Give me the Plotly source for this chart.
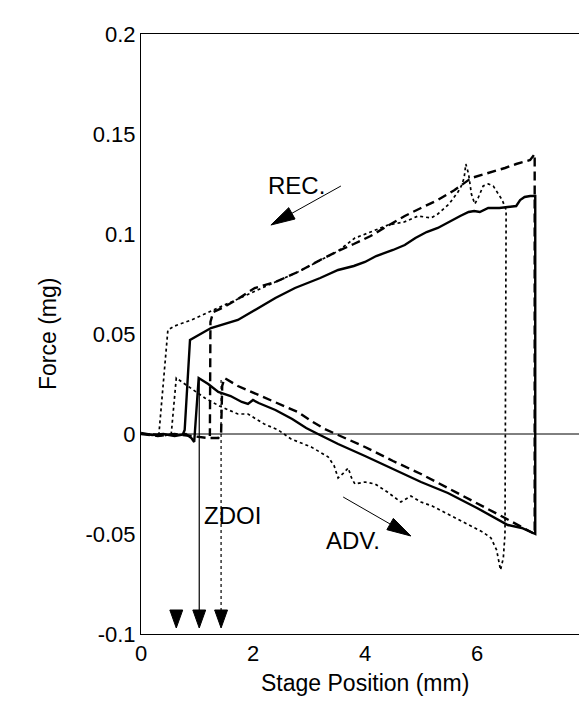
import math
import plotly.graph_objects as go

# ---------------- data ----------------
# Solid curve: baseline -> advancing snap-in -> advancing branch -> jump at 7 mm -> receding branch -> snap-off
solid_x = [0.0, 0.2, 0.4, 0.6, 0.8, 0.9, 0.95, 1.0, 1.03,
           1.2, 1.38, 1.6, 1.8, 1.91, 2.0, 2.1, 2.4, 2.7, 2.95, 3.16, 3.52,
           4.0, 4.5, 5.0, 5.48, 6.0, 6.55, 6.8, 7.04,
           7.04, 6.95, 6.85, 6.77, 6.7, 6.55, 6.4, 6.2, 6.05, 5.95, 5.85, 5.7,
           5.5, 5.3, 5.1, 4.9, 4.71, 4.5, 4.2, 4.0, 3.8, 3.52, 3.2, 2.75, 2.4,
           2.09, 1.73, 1.25, 1.05, 0.93, 0.875, 0.78, 0.75]
solid_y = [0.0005, -0.0005, 0.0, -0.001, 0.0, -0.002, -0.004, 0.02, 0.028,
           0.025, 0.021, 0.019, 0.016, 0.015, 0.017, 0.0155, 0.012, 0.0075, 0.003, 0.0, -0.005,
           -0.011, -0.0175, -0.024, -0.0295, -0.037, -0.0455, -0.047, -0.050,
           0.119, 0.119, 0.1185, 0.117, 0.114, 0.1135, 0.113, 0.113, 0.111, 0.1115, 0.111, 0.109,
           0.106, 0.103, 0.101, 0.098, 0.0945, 0.092, 0.089, 0.086, 0.084, 0.082, 0.078, 0.073, 0.068,
           0.063, 0.057, 0.053, 0.050, 0.048, 0.047, 0.002, 0.0]

dashed_x = [0.0, 0.3, 0.6, 0.9, 1.2, 1.38, 1.43, 1.45, 1.49,
            1.73, 2.09, 2.45, 2.8, 3.04, 3.28, 3.52, 4.0, 4.5, 5.0, 5.48, 6.0, 6.5, 7.03,
            7.03, 6.95, 6.7, 6.5, 6.2, 5.9, 5.6, 5.3, 5.0, 4.71, 4.4, 4.1, 3.8, 3.52,
            3.2, 2.8, 2.4, 2.03, 1.7, 1.45, 1.29, 1.24, 1.23]
dashed_y = [0.0, -0.001, 0.0, -0.001, -0.002, -0.002, 0.0, 0.024, 0.028,
            0.024, 0.0195, 0.015, 0.011, 0.0065, 0.0025, -0.0005, -0.0065, -0.0135, -0.020, -0.027, -0.0345, -0.042, -0.050,
            0.140, 0.137, 0.135, 0.133, 0.1305, 0.128, 0.122, 0.117, 0.113, 0.109, 0.104, 0.099, 0.095, 0.0915,
            0.087, 0.081, 0.076, 0.073, 0.067, 0.063, 0.061, 0.056, -0.001]

dotted_x = [0.0, 0.2, 0.4, 0.54, 0.63,
            0.79, 1.14, 1.4, 1.73, 1.91, 2.2, 2.45, 2.68, 3.04, 3.34, 3.45, 3.52, 3.6, 3.7, 3.76, 3.82,
            4.0, 4.18, 4.4, 4.64, 4.82, 5.0, 5.2, 5.48, 5.7, 5.9, 6.1, 6.25, 6.35, 6.42, 6.47, 6.5,
            6.52, 6.45, 6.38, 6.29, 6.2, 6.11, 6.02, 5.96, 5.9, 5.85, 5.8, 5.77, 5.72, 5.66, 5.5,
            5.3, 5.18, 4.95, 4.7, 4.41, 4.1, 3.82, 3.52, 3.2, 2.8, 2.4, 2.0, 1.6, 1.2, 0.9, 0.6,
            0.48, 0.32]
dotted_y = [0.0, 0.0, -0.001, 0.0, 0.028,
            0.025, 0.018, 0.014, 0.010, 0.010, 0.005, 0.002, -0.0025, -0.0065, -0.0114, -0.016, -0.022, -0.020, -0.017, -0.022, -0.025,
            -0.024, -0.025, -0.029, -0.034, -0.031, -0.034, -0.036, -0.040, -0.043, -0.046, -0.049, -0.052, -0.058, -0.068, -0.062, -0.050,
            0.112, 0.117, 0.120, 0.124, 0.125, 0.124, 0.118, 0.115, 0.120, 0.130, 0.135, 0.128, 0.124, 0.121, 0.115,
            0.110, 0.108, 0.109, 0.106, 0.1045, 0.101, 0.098, 0.0915, 0.087, 0.081, 0.076, 0.071, 0.066, 0.061, 0.057, 0.054,
            0.052, 0.0]

# ZDOI markers (stage positions of zero depth of immersion)
zdoi_x = [0.63, 1.04, 1.43]
zdoi_line_x = [1.04, 1.43]
zdoi_line_top = [0.028, 0.027]
zdoi_line_dash = ["solid", "dot"]

# direction arrows: (tail x, tail y, tip x, tip y)
rec_arrow = (3.57, 0.124, 2.32, 0.1045)
adv_arrow = (3.61, -0.0315, 4.82, -0.051)

x_ticks = [0, 2, 4, 6, 8]
y_ticks = [0.2, 0.15, 0.1, 0.05, 0, -0.05, -0.1]
y_tick_text = ["0.2", "0.15", "0.1", "0.05", "0", "-0.05", "-0.1"]

# ---------------- figure ----------------
FONT = "Liberation Sans, Arial, Helvetica, sans-serif"
W, H = 587, 709
ML, MR, MT, MB = 133, 6, 26, 83
X_RANGE = (0, 8)
Y_RANGE = (-0.1, 0.2)
px_per_x = (W - ML - MR) / (X_RANGE[1] - X_RANGE[0])
px_per_y = (H - MT - MB) / (Y_RANGE[1] - Y_RANGE[0])

fig = go.Figure()

# zero line
fig.add_trace(go.Scatter(x=[0, 8], y=[0, 0], mode="lines",
                         line=dict(color="black", width=1), hoverinfo="skip"))

fig.add_trace(go.Scatter(x=dotted_x, y=dotted_y, mode="lines",
                         line=dict(color="black", width=1.7, dash="dot")))
fig.add_trace(go.Scatter(x=dashed_x, y=dashed_y, mode="lines",
                         line=dict(color="black", width=2.4, dash="9px,5px")))
fig.add_trace(go.Scatter(x=solid_x, y=solid_y, mode="lines",
                         line=dict(color="black", width=2.4)))

tri_top = -0.088
tri_tip = -0.097
tri_hw = 0.115
for xl, yt, ds in zip(zdoi_line_x, zdoi_line_top, zdoi_line_dash):
    fig.add_trace(go.Scatter(x=[xl, xl], y=[yt, tri_top], mode="lines",
                             line=dict(color="black", width=1.2, dash=ds)))
for xi in zdoi_x:
    fig.add_trace(go.Scatter(x=[xi - tri_hw, xi + tri_hw, xi, xi - tri_hw],
                             y=[tri_top, tri_top, tri_tip, tri_top],
                             mode="lines", fill="toself", fillcolor="black",
                             line=dict(color="black", width=1)))


def add_arrow(tail_x, tail_y, tip_x, tip_y, head_len=24, head_hw=6.5):
    # work in pixel space so the head keeps its shape
    dxp = (tip_x - tail_x) * px_per_x
    dyp = (tip_y - tail_y) * px_per_y
    L = math.hypot(dxp, dyp)
    ux, uy = dxp / L, dyp / L
    px_, py_ = -uy, ux
    bx = tip_x - ux * head_len / px_per_x
    by = tip_y - uy * head_len / px_per_y
    b1x = bx + px_ * head_hw / px_per_x
    b1y = by + py_ * head_hw / px_per_y
    b2x = bx - px_ * head_hw / px_per_x
    b2y = by - py_ * head_hw / px_per_y
    fig.add_trace(go.Scatter(x=[tail_x, bx], y=[tail_y, by], mode="lines",
                             line=dict(color="black", width=1)))
    fig.add_trace(go.Scatter(x=[tip_x, b1x, b2x, tip_x], y=[tip_y, b1y, b2y, tip_y],
                             mode="lines", fill="toself", fillcolor="black",
                             line=dict(color="black", width=1)))


add_arrow(*rec_arrow)
add_arrow(*adv_arrow)

ann_font = dict(family=FONT, size=24, color="black")
annotations = [
    dict(x=2.77, y=0.1245, xref="x", yref="y", text="REC.", showarrow=False, font=ann_font),
    dict(x=3.79, y=-0.053, xref="x", yref="y", text="ADV.", showarrow=False, font=ann_font),
    dict(x=1.64, y=-0.0405, xref="x", yref="y", text="ZDOI", showarrow=False, font=ann_font),
    dict(x=0, y=0.5, xref="paper", yref="paper", xshift=-108, text="Force (mg)",
         textangle=-90, showarrow=False, font=dict(family=FONT, size=23, color="black")),
    dict(x=0.5, y=0, xref="paper", yref="paper", yshift=-64, text="Stage Position (mm)",
         showarrow=False, font=dict(family=FONT, size=23, color="black")),
]

fig.update_layout(
    width=W, height=H,
    margin=dict(l=ML, r=MR, t=MT, b=MB),
    paper_bgcolor="white", plot_bgcolor="white",
    showlegend=False,
    font=dict(family=FONT, size=22, color="black"),
    annotations=annotations,
)
fig.update_xaxes(range=list(X_RANGE), tickvals=x_ticks, showgrid=False, zeroline=False,
                 showline=True, linecolor="black", linewidth=1, mirror=True,
                 ticks="", tickfont=dict(family=FONT, size=22))
fig.update_yaxes(range=list(Y_RANGE), tickvals=y_ticks, ticktext=y_tick_text, showgrid=False,
                 zeroline=False, showline=True, linecolor="black", linewidth=1, mirror=True,
                 ticks="", tickfont=dict(family=FONT, size=22))

fig.write_html("out.html")
